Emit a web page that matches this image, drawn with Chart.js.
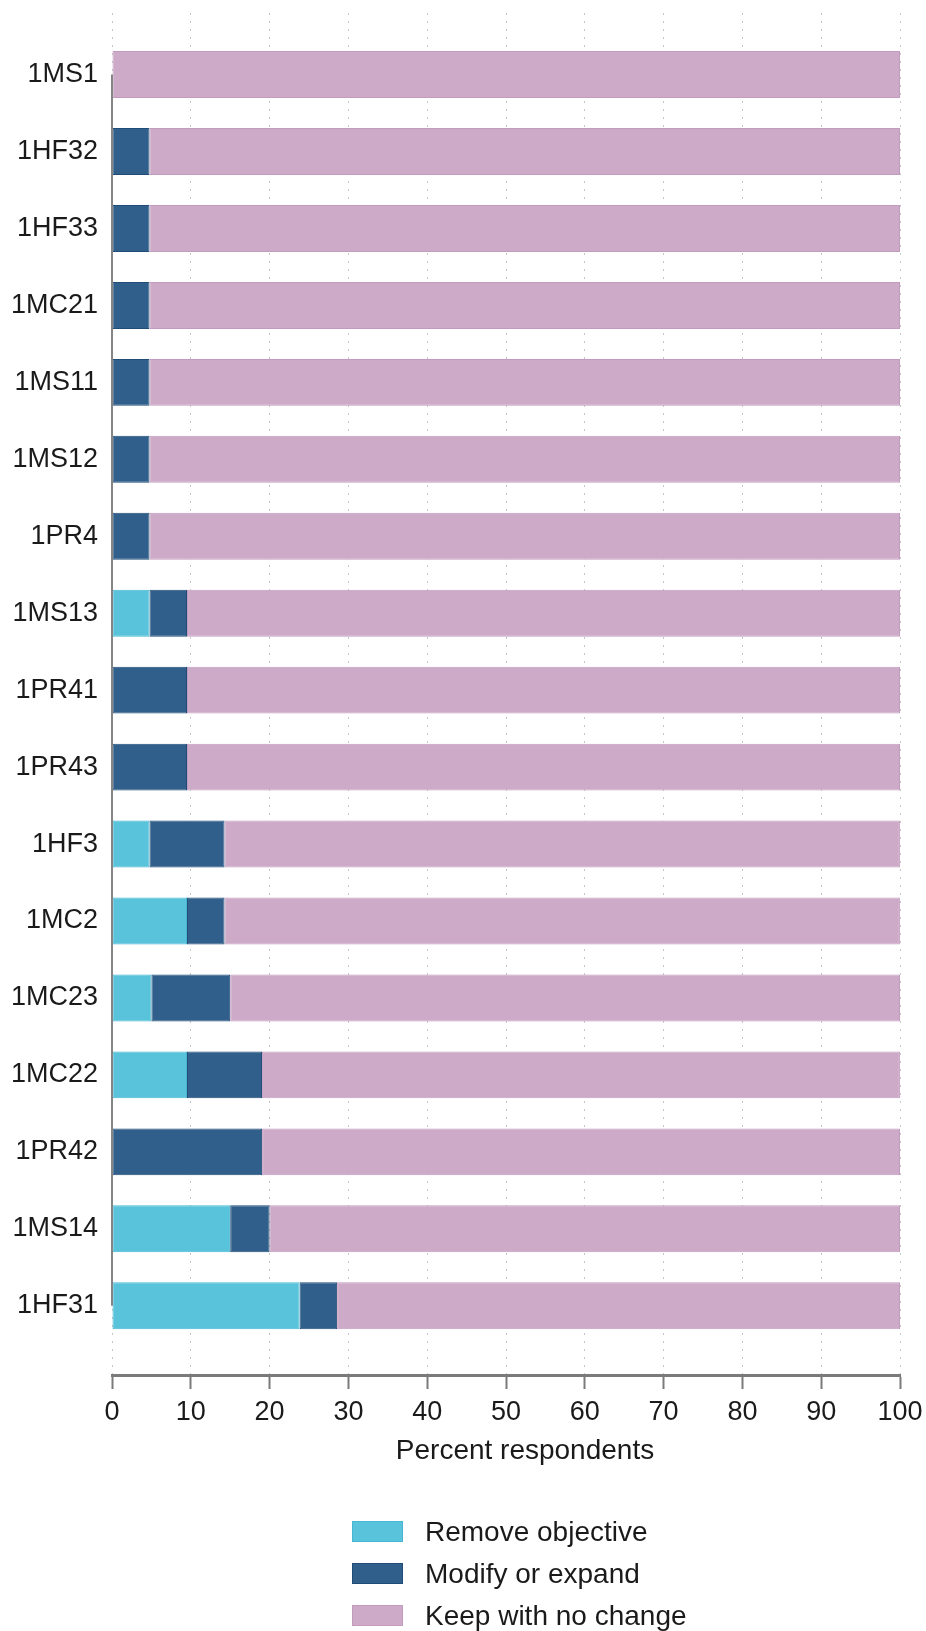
<!DOCTYPE html>
<html>
<head>
<meta charset="utf-8">
<script src="https://cdn.jsdelivr.net/npm/chart.js@4/dist/chart.umd.min.js"></script>
<style>
  html, body { margin: 0; padding: 0; background: #ffffff; }
  #wrap { position: relative; width: 926px; height: 1631px; }
  #legend { position: absolute; left: 352px; top: 1521px; font-family: "Liberation Sans", Arial, sans-serif; font-size: 28px; color: #1a1a1a; }
  .item { position: relative; height: 42px; }
  .box { position: absolute; left: 0; top: 0; width: 49px; height: 19px; border: 1px solid; }
  .lbl { position: absolute; left: 73px; top: -5px; line-height: 32px; white-space: nowrap; }
</style>
</head>
<body>
<div id="wrap">
  <canvas id="c"></canvas>
  <div id="legend"></div>
</div>
<script>
const categories = ["1MS1","1HF32","1HF33","1MC21","1MS11","1MS12","1PR4","1MS13","1PR41","1PR43","1HF3","1MC2","1MC23","1MC22","1PR42","1MS14","1HF31"];
const removeObjective = [0, 0, 0, 0, 0, 0, 0, 4.76, 0, 0, 4.76, 9.52, 5, 9.52, 0, 15, 23.81];
const modifyOrExpand  = [0, 4.76, 4.76, 4.76, 4.76, 4.76, 4.76, 4.76, 9.52, 9.52, 9.52, 4.76, 10, 9.52, 19.05, 5, 4.76];
const keepNoChange    = [100, 95.24, 95.24, 95.24, 95.24, 95.24, 95.24, 90.48, 90.48, 90.48, 85.71, 85.71, 85, 80.95, 80.95, 80, 71.43];
const xTicks = [0,10,20,30,40,50,60,70,80,90,100];
const xTitle = "Percent respondents";
const seriesNames = ["Remove objective", "Modify or expand", "Keep with no change"];
const fills = ["#59c3dc", "#2f5f8a", "#cdaac8"];
const borders = ["#47b6d3", "#214c75", "#c29bbe"];

const toPoints = arr => arr.map((v, i) => ({ x: v, y: i + 1 }));
const seriesValues = [removeObjective, modifyOrExpand, keepNoChange];
const FONT = '"Liberation Sans", Arial, sans-serif';

const extras = {
  id: 'extras',
  afterDatasetsDraw(chart) {
    const { ctx, scales: { x, y } } = chart;
    const px = x.getPixelForValue(0);
    ctx.save();
    ctx.strokeStyle = '#858585';
    ctx.lineWidth = 2;
    ctx.beginPath();
    ctx.moveTo(px, y.getPixelForValue(1));
    ctx.lineTo(px, y.getPixelForValue(categories.length));
    ctx.stroke();
    ctx.restore();
  },
  afterDraw(chart) {
    const { ctx, scales: { x } } = chart;
    ctx.save();
    ctx.font = '28px ' + FONT;
    ctx.fillStyle = '#1a1a1a';
    ctx.textAlign = 'center';
    ctx.textBaseline = 'middle';
    ctx.fillText(xTitle, (x.left + x.right) / 2 + 19, x.top + 76);
    ctx.restore();
  }
};

Chart.defaults.font.family = FONT;
Chart.defaults.color = '#1a1a1a';

new Chart(document.getElementById('c'), {
  type: 'bar',
  data: {
    datasets: seriesValues.map((vals, k) => ({
      label: seriesNames[k],
      data: toPoints(vals),
      backgroundColor: fills[k],
      borderColor: borders[k],
      borderWidth: 1,
      borderSkipped: false,
      categoryPercentage: 1,
      barPercentage: 0.61
    }))
  },
  options: {
    indexAxis: 'y',
    responsive: true,
    maintainAspectRatio: false,
    animation: false,
    layout: { padding: { top: 13, left: 0, right: 26, bottom: 1631 - 1378 - 57.4 } },
    plugins: { legend: { display: false }, tooltip: { enabled: false } },
    scales: {
      x: {
        type: 'linear',
        stacked: true,
        min: 0,
        max: 100,
        afterBuildTicks: s => { s.ticks = xTicks.map(v => ({ value: v })); },
        afterFit: s => { s.paddingLeft = 0; s.paddingRight = 0; },
        ticks: { font: { size: 27 }, padding: 7, color: '#1a1a1a' },
        grid: { color: '#c8c8c8', lineWidth: 1, tickLength: 14, tickColor: '#7a7a7a', tickWidth: 2, tickBorderDash: [] },
        border: { display: true, color: '#7a7a7a', width: 3, dash: [2, 6] },
        title: { display: false }
      },
      y: {
        type: 'linear',
        stacked: true,
        reverse: true,
        offset: false,
        min: 0.2,
        max: 17.9,
        afterBuildTicks: s => { s.ticks = categories.map((_, i) => ({ value: i + 1 })); },
        afterFit: s => { s.width = 112; s.paddingTop = 0; s.paddingBottom = 0; },
        ticks: { autoSkip: false, font: { size: 27 }, padding: 14, color: '#1a1a1a', callback: v => categories[v - 1] },
        grid: { display: false, drawTicks: false },
        border: { display: false }
      }
    }
  },
  plugins: [extras]
});

const legend = document.getElementById('legend');
seriesNames.forEach((name, k) => {
  const item = document.createElement('div');
  item.className = 'item';
  const box = document.createElement('div');
  box.className = 'box';
  box.style.background = fills[k];
  box.style.borderColor = borders[k];
  const lbl = document.createElement('div');
  lbl.className = 'lbl';
  lbl.textContent = name;
  item.appendChild(box);
  item.appendChild(lbl);
  legend.appendChild(item);
});
</script>
</body>
</html>
